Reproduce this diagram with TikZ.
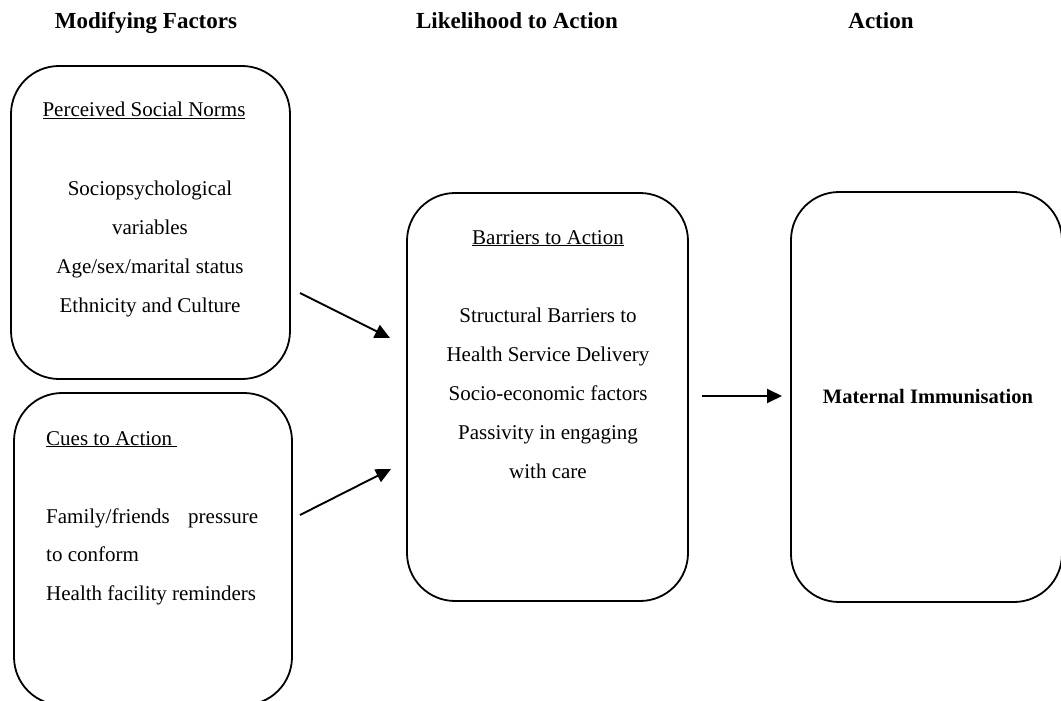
\documentclass[tikz,border=0pt]{standalone}
\usepackage{fontspec}
\setmainfont{Liberation Serif}
\usetikzlibrary{arrows.meta,positioning}

\begin{document}
\begin{tikzpicture}[
x=1pt,y=-1pt,
>={Triangle[length=15pt,width=14pt]},
factor/.style={
	draw,
	line width=1.8pt,
	rounded corners=48pt,
	inner sep=0pt
},
heading/.style={
	font=\fontsize{23}{27}\selectfont\bfseries,
	inner sep=0pt
},
body/.style={
	font=\fontsize{21}{39}\selectfont,
	inner sep=0pt
},
link/.style={
	->,
	line width=1.9pt
}
]
\path[use as bounding box,clip] (0,0) rectangle (1061,701);

% column headings
\node[heading,anchor=base] (hmod) at (146,29) {Modifying Factors};
\node[heading,anchor=base] (hlik) at (517,29) {Likelihood to Action};
\node[heading,anchor=base] (hact) at (881,29) {Action};

% boxes
\node[factor,minimum width=279pt,minimum height=313pt] (norms) at (150.5,222.5) {};
\node[factor,minimum width=278pt,minimum height=312pt] (cues) at (153,549) {};
\node[factor,minimum width=281pt,minimum height=408pt] (barriers) at (547.5,397) {};
\node[factor,minimum width=271pt,minimum height=410pt] (action) at (926.5,397) {};

% perceived social norms
\node[body,anchor=base] (normt) at (144,117) {\underline{Perceived Social Norms}};
\foreach \y/\t [count=\i] in {188/Sociopsychological, 227/variables,
	266/{Age/sex/marital status}, 305/{Ethnicity and Culture}}
\node[body,anchor=base] (norm\i) at (150,\y+7) {\t};

% cues to action
\node[body,anchor=base west] (cuet) at (46,445) {\underline{Cues to Action\ }};
\foreach \y/\t [count=\i] in {516/{\makebox[212pt][l]{Family/friends\hfill pressure}},
	554/{to conform}, 593/{Health facility reminders}}
\node[body,anchor=base west] (cue\i) at (46,\y+7) {\t};

% barriers to action
\node[body,anchor=base] (bart) at (548,244) {\underline{Barriers to Action}};
\foreach \y/\t [count=\i] in {315/{Structural Barriers to}, 354/{Health Service Delivery},
	393/{Socio-economic factors}, 432/{Passivity in engaging}, 471/{with care}}
\node[body,anchor=base] (bar\i) at (548,\y+7) {\t};

% outcome
\node[body,font=\fontsize{20.5}{39}\selectfont\bfseries,anchor=base] (mat) at (928,403) {Maternal Immunisation};

% arrow ends
\coordinate (n1) at (300,293);
\coordinate (b1) at (390,338);
\coordinate (c1) at (300,515);
\coordinate (b2) at (391,469);
\coordinate (b3) at (702,396);
\coordinate (a1) at (782,396);

\draw[link] (n1) -- (b1);
\draw[link] (c1) -- (b2);
\draw[link] (b3) -- (a1);
\end{tikzpicture}
\end{document}
